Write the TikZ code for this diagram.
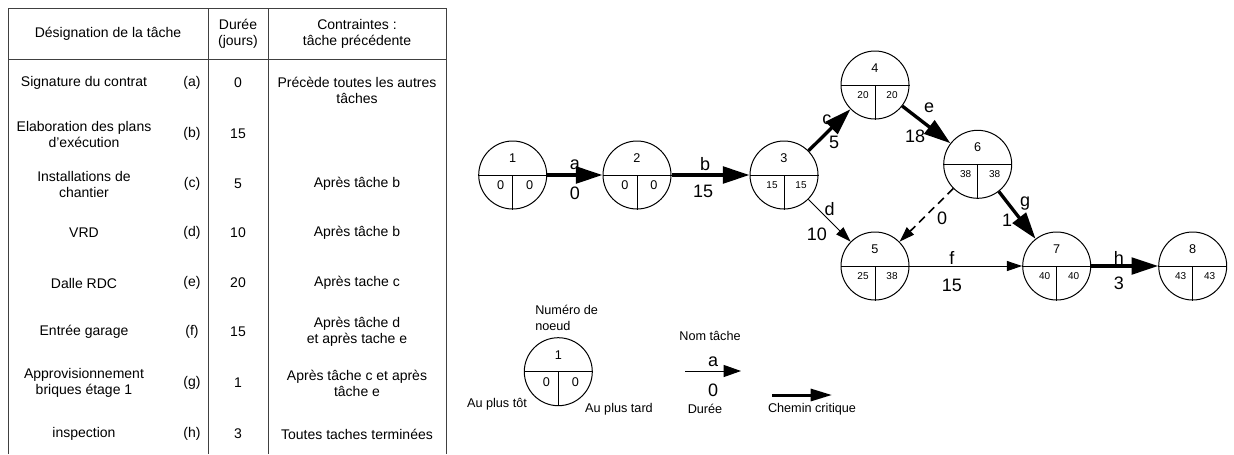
\documentclass[tikz,border=0pt]{standalone}
\usepackage{fontspec}
\setmainfont{Liberation Sans}
\usetikzlibrary{arrows.meta}

\newcommand{\noeud}[6][petit]{%
  \node[evt] (#2) at (#3) {};
  \draw[sep] (#2.west) -- (#2.east);
  \draw[sep] (#2.center) -- (#2.south);
  \node[grand] (#2-n) at ([yshift=12.75pt]#2.center) {#4};
  \node[#1] (#2-t) at ([xshift=-9pt,yshift=-7.5pt]#2.center) {#5};
  \node[#1] (#2-l) at ([xshift=12.75pt,yshift=-7.5pt]#2.center) {#6};
}

\begin{document}
\begin{tikzpicture}[x=0.75pt, y=-0.75pt,
    evt/.style={circle, draw, line width=0.75pt, minimum size=51pt, inner sep=0pt},
    sep/.style={line width=0.6pt},
    grille/.style={line width=0.75pt, black!75},
    grand/.style={font=\fontsize{9.5}{10}\selectfont, inner sep=0pt},
    petit/.style={font=\fontsize{7.5}{9}\selectfont, inner sep=0pt},
    txt/.style={font=\fontsize{10.5}{12}\selectfont, align=center, inner sep=0pt},
    leg/.style={font=\fontsize{9.5}{11.8}\selectfont, inner sep=0pt},
    lab/.style={font=\fontsize{13.5}{15}\selectfont, inner sep=0pt},
    crit/.style={line width=2.5pt, -{Triangle[length=20pt, width=12.5pt]}},
    tache/.style={line width=0.75pt, -{Triangle[length=11.5pt, width=7.5pt]}},
    fictive/.style={tache, line width=1.2pt, dash pattern=on 6pt off 4pt}
  ]
  \useasboundingbox (0,0) rectangle (1234,454);

  \draw[grille] (8,454) -- (8,8) -- (446,8) -- (446,454);
  \draw[grille] (8,59) -- (446,59);
  \draw[grille] (208,8) -- (208,454);
  \draw[grille] (268,8) -- (268,454);

  \node[txt] (h1) at (108,34) {Désignation de la tâche};
  \node[txt] (h2) at (238,34) {Durée\\(jours)};
  \node[txt] (h3) at (357,34) {Contraintes :\\tâche précédente};

  \foreach \n/\y/\yc/\des/\dur/\con in {
      a/83/90/{Signature du contrat}/0/{Précède toutes les autres\\tâches},
      b/134/134/{Elaboration des plans\\d’exécution}/15/{},
      c/184/184/{Installations de\\chantier}/5/{Après tâche b},
      d/233/233/{VRD}/10/{Après tâche b},
      e/283/283/{Dalle RDC}/20/{Après tache c},
      f/332/332/{Entrée garage}/15/{Après tâche d\\et après tache e},
      g/383/383/{Approvisionnement\\briques étage 1}/1/{Après tâche c et après\\tâche e},
      h/434/434/{inspection}/3/{Toutes taches terminées}}{
    \node[txt] (d\n) at (84,\y) {\des};
    \node[txt] (l\n) at (192,\y) {(\n)};
    \node[txt] (t\n) at (238,\y) {\dur};
    \node[txt] (c\n) at (357,\yc) {\con};
  }

  \noeud[grand]{n1}{512.7,175}{1}{0}{0}
  \noeud[grand]{n2}{637,175}{2}{0}{0}
  \noeud{n3}{784,175}{3}{15}{15}
  \noeud{n4}{875,85}{4}{20}{20}
  \noeud{n5}{875,266}{5}{25}{38}
  \noeud{n6}{977.7,164.3}{6}{38}{38}
  \noeud{n7}{1056.7,266}{7}{40}{40}
  \noeud{n8}{1192.7,266}{8}{43}{43}

  \draw[crit] (n1) -- (n2)
    node[lab, midway, yshift=7.5pt] (ea) {a}
    node[lab, midway, yshift=-13.5pt] (va) {0};
  \draw[crit] (n2) -- (n3)
    node[lab, midway, xshift=-4pt, yshift=8pt] (eb) {b}
    node[lab, midway, xshift=-5.5pt, yshift=-12.5pt] (vb) {15};
  \draw[crit] (n3) -- (n4)
    node[lab, midway, xshift=-2pt, yshift=8pt] (ec) {c}
    node[lab, midway, xshift=3.5pt, yshift=-9.5pt] (vc) {5};
  \draw[crit] (n4) -- (n6)
    node[lab, midway, xshift=2pt, yshift=12.5pt] (ee) {e}
    node[lab, midway, xshift=-8.5pt, yshift=-8.5pt] (ve) {18};
  \draw[crit] (n6) -- (n7)
    node[lab, midway, xshift=6pt, yshift=9pt] (eg) {g}
    node[lab, midway, xshift=-7.5pt, yshift=-3.5pt] (vg) {1};
  \draw[crit] (n7) -- (n8)
    node[lab, midway, xshift=-4.3pt, yshift=6pt] (eh) {h}
    node[lab, midway, xshift=-4.3pt, yshift=-12.8pt] (vh) {3};
  \draw[tache] (n3) -- (n5)
    node[lab, midway, yshift=8.3pt] (ed) {d}
    node[lab, midway, xshift=-9.5pt, yshift=-10.5pt] (vd) {10};
  \draw[tache] (n5) -- (n7)
    node[lab, midway, xshift=-10.5pt, yshift=6pt] (ef) {f}
    node[lab, midway, xshift=-10.5pt, yshift=-14.3pt] (vf) {15};
  \draw[fictive] (n6) -- (n5)
    node[lab, midway, xshift=11.8pt, yshift=-2pt] (vx) {0};

  \noeud[grand]{ln}{558.3,371.7}{1}{0}{0}
  \node[leg, align=left, anchor=west] (lnum) at (535,318) {Numéro de\\noeud};
  \node[leg] (ltot) at (497,404) {Au plus tôt};
  \node[leg] (ltard) at (619,409) {Au plus tard};

  \node[leg] (lnom) at (710,336) {Nom tâche};
  \coordinate (ta) at (685,371);
  \coordinate (tb) at (741,371);
  \draw[line width=0.75pt, -{Triangle[length=13pt, width=9pt]}] (ta) -- (tb)
    node[lab, midway, yshift=6.75pt] (lea) {a}
    node[lab, midway, yshift=-14.25pt] (lva) {0};
  \node[leg] (ldur) at (705,409) {Durée};

  \coordinate (ca) at (772,395);
  \coordinate (cb) at (832,395);
  \draw[line width=2.25pt, -{Triangle[length=16pt, width=9pt]}] (ca) -- (cb);
  \node[leg] (lcrit) at (812,409) {Chemin critique};
\end{tikzpicture}
\end{document}
